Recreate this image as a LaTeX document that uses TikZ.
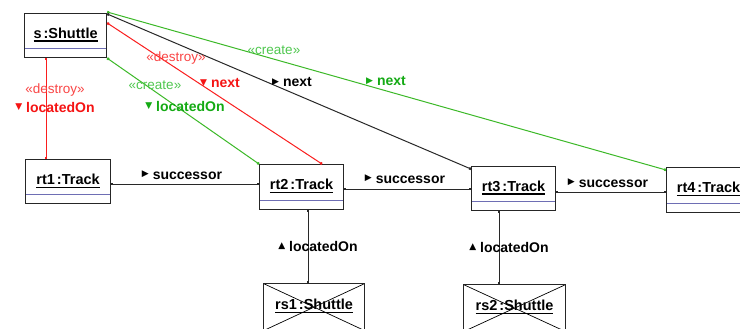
\documentclass[tikz,border=0pt]{standalone}
\usepackage{fontspec}
\setmainfont{Liberation Sans}
\newfontfamily\symfont{DejaVu Sans}
\usetikzlibrary{arrows.meta,calc}
\definecolor{lnred}{RGB}{250,30,30}
\definecolor{txred}{RGB}{245,20,20}
\definecolor{stred}{RGB}{250,70,70}
\definecolor{lngreen}{RGB}{60,185,40}
\definecolor{txgreen}{RGB}{20,170,20}
\definecolor{stgreen}{RGB}{80,200,80}
\definecolor{lnblack}{RGB}{40,40,40}
\definecolor{sepblue}{RGB}{110,110,180}
\newcommand\ulname[1]{\setbox0\hbox{#1}\rlap{\rule[-3.6pt]{\wd0}{1.2pt}}\box0}
\newcommand\tridown{\raisebox{2.4pt}{\symfont\fontsize{9}{9}\selectfont ▼}}
\newcommand\triright{\raisebox{2.4pt}{\symfont\fontsize{9}{9}\selectfont ▶}}
\newcommand\triup{\raisebox{2.4pt}{\symfont\fontsize{9}{9}\selectfont ▲}}
\tikzset{
  obj/.style={draw=black!85, line width=1.2pt, rectangle, inner sep=0pt, anchor=north west,
    minimum height=44pt, text height=11pt, text depth=6pt,
    font=\bfseries\fontsize{14.5}{16}\selectfont,
    path picture={\draw[sepblue, line width=0.9pt]
      ([yshift=9.5pt]path picture bounding box.south west) --
      ([yshift=9.5pt]path picture bounding box.south east);}},
  crossed/.style={path picture={\draw[black, line width=0.7pt]
      (path picture bounding box.north west) -- (path picture bounding box.south east)
      (path picture bounding box.north east) -- (path picture bounding box.south west);}},
  link/.style={line width=1pt, {Square[length=2pt,width=2.4pt]}-{Square[length=2pt,width=2.4pt]}},
  lab/.style={inner sep=0pt, font=\bfseries\fontsize{14}{16}\selectfont},
  stereo/.style={inner sep=0pt, font=\fontsize{13.5}{15}\selectfont},
}
\begin{document}
\begin{tikzpicture}[x=1pt,y=-1pt]
\fill[white] (0,0) rectangle (740,329);
\useasboundingbox (0,0) rectangle (740,329);
% objects
\node[obj, minimum width=82pt] (s) at (24,13) {\ulname{s\kern2pt:Shuttle}};
\node[obj, minimum width=85pt] (rt1) at (25,159) {\ulname{rt1\kern2pt:Track}};
\node[obj, minimum width=84pt, minimum height=45pt] (rt2) at (259,164) {\ulname{rt2\kern2pt:Track}};
\node[obj, minimum width=84pt] (rt3) at (471,166) {\ulname{rt3\kern2pt:Track}};
\node[obj, minimum width=84pt, minimum height=45pt] (rt4) at (666,167) {\ulname{rt4\kern2pt:Track}};
\node[obj, crossed, minimum width=101pt, minimum height=47pt] (rs1) at (263,283) {\ulname{rs1\kern2pt:Shuttle}};
\node[obj, crossed, minimum width=102pt, minimum height=47pt] (rs2) at (463,284) {\ulname{rs2\kern2pt:Shuttle}};
% links
\draw[link, lnred, {Square[length=2pt,width=2.4pt,fill=black]}-{Square[length=2pt,width=2.4pt,fill=lnred]}]
  ([xshift=22pt]s.south west) -- ([xshift=21pt]rt1.north west);
\draw[link, lngreen, {Square[length=2pt,width=2.4pt,fill=black]}-{Square[length=2pt,width=2.4pt,fill=lngreen]}]
  (s.south east) -- (rt2.north west);
\draw[link, lnred, {Square[length=2pt,width=2.4pt,fill=black]}-{Square[length=2pt,width=2.4pt,fill=lnred]}]
  ([yshift=-10pt]s.north east) -- ([xshift=63pt]rt2.north west);
\draw[link, lngreen, {Square[length=2pt,width=2.4pt,fill=black]}-{Square[length=2pt,width=2.4pt,fill=lngreen]}]
  ([yshift=1pt]s.north east) -- ([yshift=-3pt]rt4.north west);
\draw[link, lnblack] ([yshift=-1pt]s.north east) -- ([yshift=-3pt]rt3.north west);
\draw[link, lnblack] ([yshift=-20pt]rt2.north west) -- ([yshift=-25pt]rt1.north east);
\draw[link, lnblack] ([yshift=-25pt]rt2.north east) -- ([yshift=-23pt]rt3.north west);
\draw[link, lnblack] ([yshift=-26pt]rt3.north east) -- ([yshift=-25pt]rt4.north west);
\draw[link, lnblack] ([xshift=49pt]rt2.south west) -- ([xshift=45pt]rs1.north west);
\draw[link, lnblack] ([xshift=28pt]rt3.south west) -- ([xshift=36pt]rs2.north west);
% labels
\node[stereo, text=stred] (l1s) at (55,90) {«destroy»};
\node[lab, text=txred] (l1) at (55,107) {\tridown\ locatedOn};
\node[stereo, text=stgreen] (l2s) at (155,85) {«create»};
\node[lab, text=txgreen] (l2) at (185,106) {\tridown\ locatedOn};
\node[stereo, text=stred] (l3s) at (176,58) {«destroy»};
\node[lab, text=txred] (l3) at (220,83) {\tridown\ next};
\node[lab, text=black] (l4) at (292,82) {\triright\ next};
\node[stereo, text=stgreen] (l5s) at (274,50) {«create»};
\node[lab, text=txgreen] (l5) at (386,81) {\triright\ next};
\node[lab] (l6) at (182,175) {\triright\ successor};
\node[lab] (l7) at (405,179) {\triright\ successor};
\node[lab] (l8) at (608,183) {\triright\ successor};
\node[lab] (l9) at (318,246) {\triup\ locatedOn};
\node[lab] (l10) at (509,247) {\triup\ locatedOn};
\end{tikzpicture}
\end{document}
